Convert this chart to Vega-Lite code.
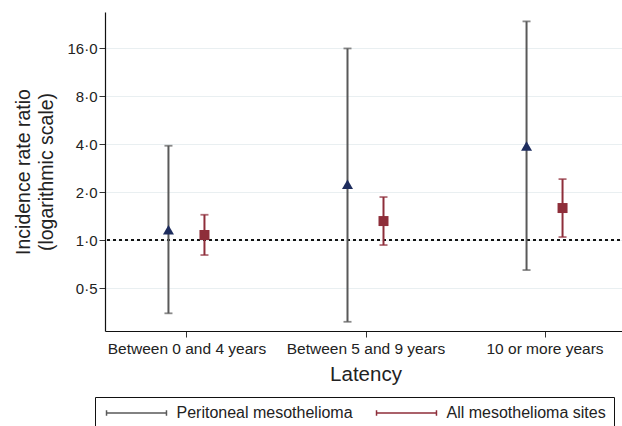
{
  "$schema": "https://vega.github.io/schema/vega-lite/v6.json",
  "width": 521,
  "height": 319,
  "autosize": {"type": "none"},
  "padding": {"left": 105, "top": 12, "right": 0, "bottom": 95},
  "background": "white",
  "config": {
    "view": {"stroke": null},
    "font": "Liberation Sans",
    "axis": {"labelFont": "Liberation Sans", "titleFont": "Liberation Sans", "titleFontWeight": "normal", "labelColor": "#222", "titleColor": "#222", "domainColor": "#111", "tickColor": "#333"}
  },
  "data": {
    "values": [
      {"latency": "Between 0 and 4 years", "series": "Peritoneal mesothelioma", "irr": 1.16, "lo": 0.347, "hi": 3.9},
      {"latency": "Between 0 and 4 years", "series": "All mesothelioma sites", "irr": 1.075, "lo": 0.805, "hi": 1.44},
      {"latency": "Between 5 and 9 years", "series": "Peritoneal mesothelioma", "irr": 2.24, "lo": 0.307, "hi": 15.9},
      {"latency": "Between 5 and 9 years", "series": "All mesothelioma sites", "irr": 1.315, "lo": 0.93, "hi": 1.86},
      {"latency": "10 or more years", "series": "Peritoneal mesothelioma", "irr": 3.89, "lo": 0.648, "hi": 23.5},
      {"latency": "10 or more years", "series": "All mesothelioma sites", "irr": 1.587, "lo": 1.044, "hi": 2.41}
    ]
  },
  "encoding": {
    "x": {
      "field": "latency", "type": "nominal",
      "sort": ["Between 0 and 4 years", "Between 5 and 9 years", "10 or more years"],
      "scale": {"type": "point", "padding": 0.455},
      "axis": {"title": "Latency", "titleFontSize": 20.5, "labelFontSize": 15.5, "labelAngle": 0, "tickSize": 6, "labelPadding": 4, "titlePadding": 8, "domainWidth": 1.2, "grid": false}
    },
    "xOffset": {
      "field": "series", "type": "nominal",
      "scale": {"domain": ["Peritoneal mesothelioma", "All mesothelioma sites"], "range": [-36, 36]}
    }
  },
  "layer": [
    {
      "mark": {"type": "rule", "strokeDash": [3, 3], "color": "#111", "strokeWidth": 1},
      "encoding": {"y": {"datum": 1, "type": "quantitative"}, "x": null, "xOffset": null}
    },
    {
      "mark": {"type": "rule", "strokeWidth": 2},
      "encoding": {
        "y": {
          "field": "lo", "type": "quantitative",
          "scale": {"type": "log", "domain": [0.2688, 26.91], "nice": false, "zero": false},
          "axis": {
            "title": ["Incidence rate ratio", "(logarithmic scale)"],
            "titleFontSize": 19.5, "labelFontSize": 15, "titlePadding": 10, "titleLineHeight": 23,
            "values": [0.5, 1, 2, 4, 8, 16],
            "labelExpr": "replace(format(datum.value, '.1f'), '.', '·')",
            "tickSize": 6, "domainWidth": 1.2,
            "grid": true, "gridColor": "#e9eff1", "gridWidth": 1.2
          }
        },
        "y2": {"field": "hi"},
        "color": {
          "field": "series", "type": "nominal",
          "scale": {"domain": ["Peritoneal mesothelioma", "All mesothelioma sites"], "range": ["#595959", "#8e2e3a"]},
          "legend": {
            "title": null, "orient": "none", "legendX": -10, "legendY": 385,
            "direction": "horizontal",
            "symbolType": "M-5.45,0H5.45M-5.45,-0.5V0.5M5.45,-0.5V0.5",
            "symbolSize": 121, "symbolStrokeWidth": 1.5, "symbolOffset": 25.5,
            "labelFontSize": 16, "labelFont": "Liberation Sans", "labelColor": "#222",
            "strokeColor": "#111", "padding": 8, "columnPadding": 20, "labelOffset": 32,
            "labelLimit": 300
          }
        }
      }
    },
    {
      "mark": {"type": "tick", "thickness": 1.8, "size": 8},
      "encoding": {
        "y": {"field": "lo", "type": "quantitative"},
        "color": {"field": "series", "type": "nominal", "legend": null}
      }
    },
    {
      "mark": {"type": "tick", "thickness": 1.8, "size": 8},
      "encoding": {
        "y": {"field": "hi", "type": "quantitative"},
        "color": {"field": "series", "type": "nominal", "legend": null}
      }
    },
    {
      "transform": [{"filter": "datum.series === 'Peritoneal mesothelioma'"}],
      "mark": {"type": "point", "filled": true, "opacity": 1, "shape": "triangle-up", "size": 121, "color": "#1e2d5e"},
      "encoding": {"y": {"field": "irr", "type": "quantitative"}}
    },
    {
      "transform": [{"filter": "datum.series === 'All mesothelioma sites'"}],
      "mark": {"type": "point", "filled": true, "opacity": 1, "shape": "square", "size": 100, "color": "#8e2e3a"},
      "encoding": {"y": {"field": "irr", "type": "quantitative"}}
    }
  ]
}
